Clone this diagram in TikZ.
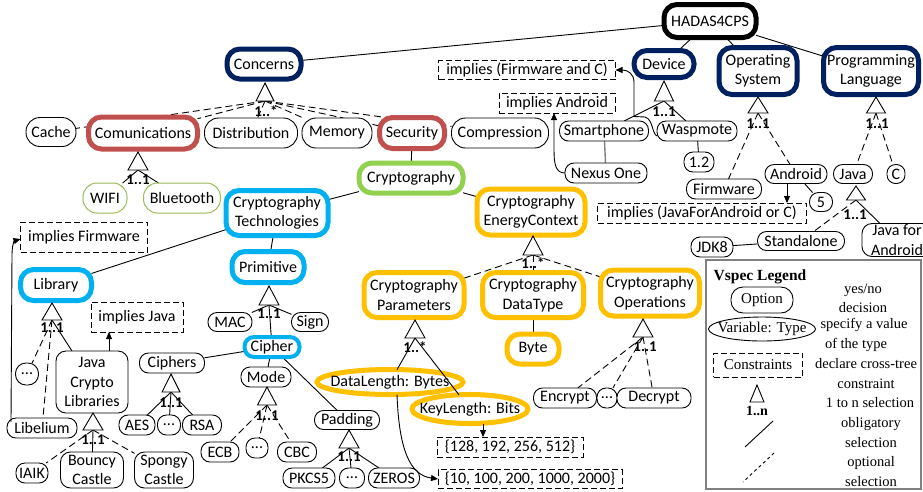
\documentclass[tikz,border=0pt]{standalone}
\usepackage{fontspec}
\setmainfont{Carlito}
\newfontfamily\legfont{Liberation Serif}
\usetikzlibrary{shapes.misc,shapes.geometric,arrows.meta}
\pgfdeclarelayer{back}
\pgfdeclarelayer{bg}
\pgfsetlayers{back,bg,main}
\definecolor{cnavy}{RGB}{0,32,96}
\definecolor{cred}{RGB}{192,80,77}
\definecolor{cgreen}{RGB}{146,208,80}
\definecolor{ccyan}{RGB}{0,176,240}
\definecolor{corange}{RGB}{255,192,0}
\definecolor{clgreen}{RGB}{155,187,89}
\definecolor{cgray}{RGB}{128,128,128}
\tikzset{
  every node/.style={inner sep=0pt, outer sep=0pt, font=\fontsize{16}{19.5}\selectfont},
  wh/.style 2 args={minimum width=#1, minimum height=#2},
  pill/.style={rectangle, rounded corners=#1, draw, line width=0.9pt, fill=white},
  pill/.default=9pt,
  gpill/.style={rectangle, rounded corners=14pt, draw=clgreen, line width=1pt, fill=white},
  rbox/.style={rectangle, rounded corners=10pt, draw, line width=0.9pt, fill=white, align=center},
  tbox/.style={rectangle, rounded corners=13pt, draw=#1, line width=5pt, fill=white, align=center},
  tell/.style={ellipse, draw=#1, line width=5pt, fill=white},
  cbox/.style={rectangle, draw, line width=1pt, dash pattern=on 6pt off 3pt, fill=white},
  card/.style={font=\bfseries\fontsize{15}{15}\selectfont},
  tri/.style={draw, line width=0.9pt, fill=white},
  conn/.style={line width=0.9pt},
  opt/.style={conn, dash pattern=on 7pt off 4pt},
  arr/.style={conn, -{Triangle[length=7pt,width=6pt]}},
  legtxt/.style={anchor=base, font=\legfont\fontsize{14.5}{17}\selectfont},
  legnode/.style={font=\legfont\fontsize{15}{17}\selectfont},
}
\newcommand\mytri[5]{%
  \draw[tri] (#1,#2) -- ++(-#3,#4) -- ++(2*#3,0) -- cycle;
  \coordinate (#5) at (#1,#2+#4);}
\begin{document}
\begin{tikzpicture}[x=1pt,y=-1pt]
\useasboundingbox (0,0) rectangle (923,491);
\begin{pgfonlayer}{back}
\fill[white] (0,0) rectangle (923,491);
\end{pgfonlayer}

% top level
\node[tbox=black, wh={92}{33}] (root) at (710,21) {HADAS4CPS};
\node[tbox=cnavy, wh={74}{30}] (concerns) at (264,64) {Concerns};
\node[tbox=cnavy, wh={60}{27}] (device) at (664,64) {Device};
\node[tbox=cnavy, wh={78}{47}] (os) at (758,71) {Operating\\System};
\node[tbox=cnavy, wh={95}{47}] (pl) at (871,71) {Programming\\Language};

% concerns
\node[pill=14pt, wh={50}{29}] (cache) at (51,132) {Cache};
\node[tbox=cred, wh={109}{32}] (comm) at (143,133) {Comunications};
\node[pill=14pt, wh={93}{30}] (distr) at (251,133) {Distribution};
\node[pill=14pt, wh={70}{30}] (memory) at (337,133) {Memory};
\node[tbox=cred, wh={65}{31}] (security) at (412,133) {Security};
\node[pill=14pt, wh={97}{30}] (compr) at (500,133) {Compression};
\node[gpill, wh={44}{30}] (wifi) at (105,198) {WIFI};
\node[gpill, wh={77}{30}] (bt) at (182,198) {Bluetooth};

% cryptography
\node[tbox=cgreen, wh={104}{30}] (crypto) at (411,178) {Cryptography};
\node[tbox=ccyan, wh={102}{45}] (ct) at (277,213) {Cryptography\\Technologies};
\node[tbox=corange, wh={108}{46}] (cec) at (531,212) {Cryptography\\EnergyContext};
\node[cbox, wh={127}{30}] (impfw) at (84,237) {implies Firmware};
\node[tbox=ccyan, wh={71}{31}] (library) at (56,285) {Library};
\node[tbox=ccyan, wh={72}{31}] (primitive) at (268,267) {Primitive};

% library
\node[pill=10.5pt, wh={23}{22}] (dotsA) at (27,374) {...};
\node[pill, wh={70}{20}] (libel) at (42,428) {Libelium};
\node[rbox, wh={72}{62}] (jcl) at (92,382) {Java\\Crypto\\Libraries};
\node[cbox, wh={92}{30}] (impjava) at (137,317) {implies Java};
\node[pill, wh={32}{20}] (iaik) at (32,473) {IAIK};
\node[rbox, wh={63}{36}] (bouncy) at (92,470) {Bouncy\\Castle};
\node[rbox, wh={59}{36}] (spongy) at (164,470) {Spongy\\Castle};

% primitive
\node[pill, wh={44}{19}] (mac) at (230,322) {MAC};
\node[pill, wh={37}{19}] (sign) at (310,322) {Sign};
\node[tbox=ccyan, line width=4pt, rounded corners=9.5pt, wh={55}{20}] (cipher) at (272,347) {Cipher};
\node[pill, wh={65}{20}] (ciphers) at (172,363) {Ciphers};
\node[pill, wh={36}{20}] (aes) at (137,425) {AES};
\node[pill, wh={23}{20}] (dotsB) at (169,425) {...};
\node[pill, wh={39}{20}] (rsa) at (202,425) {RSA};
\node[pill, wh={50}{20}] (mode) at (266,377) {Mode};
\node[pill, wh={38}{20}] (ecb) at (220,452) {ECB};
\node[pill, wh={22}{20}] (dotsC) at (257,448) {...};
\node[pill, wh={39}{20}] (cbc) at (297,452) {CBC};
\node[pill, wh={65}{19}] (padding) at (347,420) {Padding};
\node[pill, wh={52}{20}] (pkcs) at (309,478) {PKCS5};
\node[pill, wh={25}{20}] (dotsD) at (352,478) {...};
\node[pill, wh={51}{20}] (zeros) at (394,478) {ZEROS};

% energy context
\node[tbox=corange, wh={100}{45}] (params) at (414,295) {Cryptography\\Parameters};
\node[tbox=corange, wh={101}{45}] (dtype) at (533,295) {Cryptography\\DataType};
\node[tbox=corange, wh={99}{46}] (ops) at (650,293) {Cryptography\\Operations};
\node[tbox=corange, wh={52}{30}] (byte) at (533,349) {Byte};
\node[tell=corange, wh={146}{25}] (dlen) at (390,382) {\makebox[0pt]{DataLength: Bytes}};
\node[tell=corange, wh={116}{29}] (klen) at (470,409) {\makebox[0pt]{KeyLength: Bits}};
\node[cbox, wh={146}{20}] (set1) at (510,447) {\{128, 192, 256, 512\}};
\node[cbox, wh={184}{19}] (set2) at (530,479) {\{10, 100, 200, 1000, 2000\}};
\node[pill, wh={63}{20}] (encrypt) at (565,398) {Encrypt};
\node[pill, wh={20}{20}] (dotsE) at (607,398) {...};
\node[pill, wh={74}{20}] (decrypt) at (654,398) {Decrypt};

% device
\node[pill, wh={89}{20}] (smart) at (604,131) {Smartphone};
\node[pill, wh={80}{20}] (wasp) at (697,131) {Waspmote};
\node[pill, wh={82}{20}] (nexus) at (606,173) {Nexus One};
\node[pill, wh={30}{20}] (v12) at (699,162) {1.2};
\node[cbox, wh={177}{19}] (impfc) at (527,70) {implies (Firmware and C)};
\node[cbox, wh={116}{20}] (impand) at (557,103) {implies Android};

% operating system
\node[pill, wh={75}{20}] (firmware) at (724,189) {Firmware};
\node[pill, wh={62}{19}] (android) at (796,174) {Android};
\node[pill, wh={23}{19}] (five) at (821,202) {5};
\node[cbox, wh={209}{20}] (impjc) at (702,213) {implies (JavaForAndroid or C)};

% programming language
\node[pill, wh={39}{19}] (java) at (853,174) {Java};
\node[pill=8.5pt, wh={18}{19}] (cn) at (896,174) {C};
\node[pill, wh={87}{19}] (standalone) at (801,241) {Standalone};
\node[pill, wh={42}{20}] (jdk8) at (712,247) {JDK8};
\node[rbox, wh={70}{33}] (jfa) at (897,240) {Java for\\Android};

% triangles and cardinalities
\mytri{265}{83}{9}{18}{tC}
\node[card] (lC) at (266,111) {1..*};
\mytri{138}{152}{10}{18}{tCo}
\node[card] (lCo) at (138,180) {1..1};
\mytri{52}{303}{10}{17}{tL}
\node[card] (lL) at (52,328) {1..1};
\mytri{93}{413}{10}{17}{tJ}
\node[card] (lJ) at (93,440) {1..1};
\mytri{269}{286}{10}{19}{tP}
\node[card] (lP) at (269,314) {1..1};
\mytri{171}{374}{9}{18}{tCi}
\node[card] (lCi) at (171,403) {1..1};
\mytri{267}{387}{9.5}{18}{tM}
\node[card] (lM) at (267,416) {1..1};
\mytri{349}{430}{10}{18}{tPa}
\node[card] (lPa) at (349,457) {1..1};
\mytri{533}{236}{10}{19}{tE}
\node[card] (lE) at (533,263) {1..*};
\mytri{415}{320}{10}{18}{tPr}
\node[card] (lPr) at (415,347) {1..*};
\mytri{643}{319}{10}{18}{tO}
\node[card] (lO) at (645,347) {1..1};
\mytri{664}{81}{9.5}{20}{tD}
\node[card] (lD) at (664,112) {1..1};
\mytri{758}{97}{10}{16}{tOS}
\node[card] (lOS) at (758,124) {1..1};
\mytri{876}{97}{9.5}{16}{tPL}
\node[card] (lPL) at (877,124) {1..1};
\mytri{856}{186}{9.5}{14}{tJa}
\node[card] (lJa) at (855,215) {1..1};

% connectors under nodes
\begin{pgfonlayer}{bg}
\foreach \n in {concerns,device,os,pl} \draw[conn] (root) -- (\n);
\foreach \n in {cache,comm,distr,memory,security,compr} \draw[opt] (tC) -- (\n);
\foreach \n in {wifi,bt} \draw[conn] (tCo) -- (\n);
\draw[conn] (security) -- (crypto);
\draw[conn] (crypto) -- (ct);
\draw[conn] (crypto) -- (cec);
\draw[conn] (ct) -- (library);
\draw[conn] (ct) -- (primitive);
\draw[opt] (tL) -- (dotsA);
\draw[opt] (tL) -- (libel);
\draw[conn] (tL) -- (jcl);
\draw[opt] (tJ) -- (iaik);
\draw[conn] (tJ) -- (bouncy);
\draw[opt] (tJ) -- (spongy);
\foreach \n in {mac,sign,cipher} \draw[conn] (tP) -- (\n);
\draw[conn] (cipher) -- (ciphers);
\draw[conn] (cipher) -- (mode);
\draw[conn] (cipher) -- (padding);
\foreach \n in {aes,dotsB,rsa} \draw[conn] (tCi) -- (\n);
\foreach \n in {ecb,dotsC,cbc} \draw[opt] (tM) -- (\n);
\foreach \n in {pkcs,dotsD,zeros} \draw[conn] (tPa) -- (\n);
\foreach \n in {params,dtype,ops} \draw[opt] (tE) -- (\n);
\draw[conn] (dtype) -- (byte);
\foreach \n in {encrypt,dotsE,decrypt} \draw[opt] (tO) -- (\n);
\foreach \n in {smart,wasp} \draw[conn] (tD) -- (\n);
\draw[line width=1.4pt, cgray] (smart) -- (nexus);
\draw[conn] (wasp) -- (v12);
\foreach \n in {firmware,android} \draw[opt] (tOS) -- (\n);
\draw[conn] (android) -- (five);
\foreach \n in {java,cn} \draw[opt] (tPL) -- (\n);
\draw[opt] (tJa) -- (standalone);
\draw[conn] (tJa) -- (jfa);
\draw[conn] (jdk8) -- (standalone);
\end{pgfonlayer}

% connectors over nodes
\draw[conn] (tPr) -- (dlen);
\draw[conn] (tPr) -- (klen);

% constraint arrows
\draw[arr] ([xshift=17pt]jcl.north) -- ([xshift=-28pt]impjava.south);
\draw[arr] ([xshift=4pt,yshift=6pt]libel.west) -- (12,255) .. controls (12,246) and (14,241) .. ([yshift=-2pt]impfw.west);
\draw[arr] ([xshift=-9pt]android.south) -- ([xshift=85pt]impjc.north);
\draw[arr] ([xshift=13pt]klen.south) -- ([xshift=-27pt]set1.north);
\draw[arr] ([xshift=7pt]dlen.south) .. controls (399,450) and (410,475) .. (set2.west);
\draw[arr] (nexus.west) .. controls (556,173) and (554,165) .. (554,150) -- ([xshift=-3pt]impand.south);
\draw[arr] ([yshift=-5pt]wasp.west) .. controls (652,134) and (653,119) .. (645,117) -- (634,116.5) -- (634,82) .. controls (634,74) and (628,70) .. (impfc.east);

% legend
\node[draw=cgray, line width=1.5pt, wh={215}{229}] (legend) at (813.5,374.5) {};
\node[font=\legfont\bfseries\fontsize{15.5}{17}\selectfont] (legtitle) at (760,277) {Vspec Legend};
\node[pill=12pt, legnode, wh={62}{26}] (legopt) at (762,300) {Option};
\node[ellipse, draw, line width=0.9pt, fill=white, legnode, wh={107}{24}] (legvar) at (762,329) {\makebox[0pt]{Variable: Type}};
\node[cbox, legnode, wh={89}{24}] (legcons) at (758,365) {Constraints};
\mytri{757}{385}{7}{17}{tLeg}
\node[font=\legfont\bfseries\fontsize{14}{14}\selectfont] (legn) at (757,411) {1..n};
\coordinate (lo1) at (773,421);
\coordinate (lo2) at (745,447);
\draw[conn] (lo1) -- (lo2);
\coordinate (lp1) at (774,453);
\coordinate (lp2) at (743,482);
\draw[conn, dash pattern=on 3pt off 3pt] (lp1) -- (lp2);
\node[legtxt] (t1) at (863,293) {yes/no};
\node[legtxt] (t2) at (863,312) {decision};
\node[legtxt] (t3) at (864,328) {specify a value};
\node[legtxt] (t4) at (856,348) {of the type};
\node[legtxt] (t5) at (866,368) {declare cross-tree};
\node[legtxt] (t6) at (866,388) {constraint};
\node[legtxt] (t7) at (870,407) {1 to n selection};
\node[legtxt] (t8) at (871,427) {obligatory};
\node[legtxt] (t9) at (871,447) {selection};
\node[legtxt] (t10) at (871,466) {optional};
\node[legtxt] (t11) at (871,486) {selection};
\end{tikzpicture}
\end{document}
